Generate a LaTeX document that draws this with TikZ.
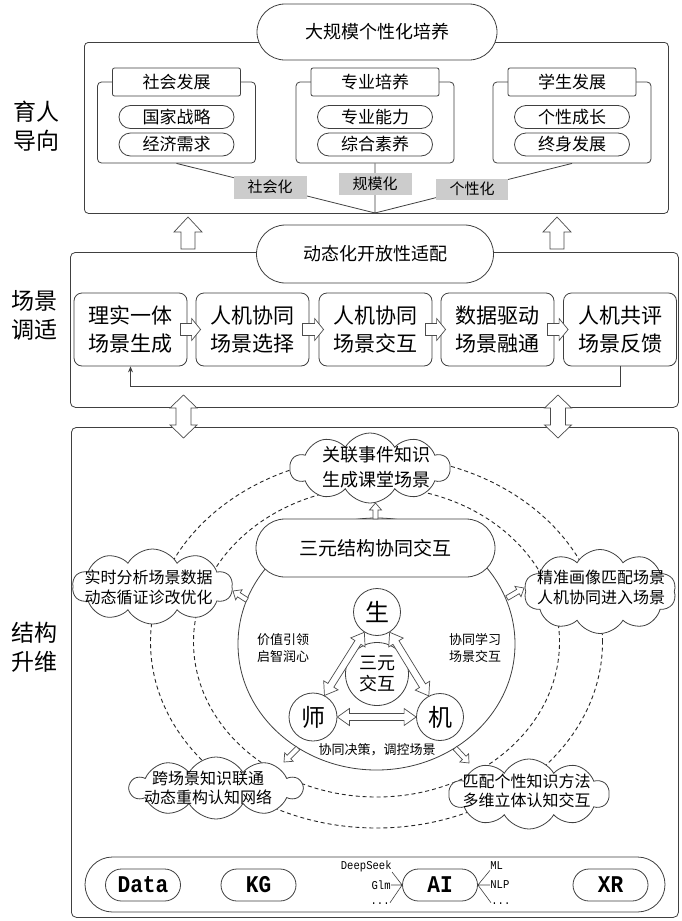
\documentclass[tikz,border=0pt]{standalone}
\usepackage{fontspec}
\setmainfont{Noto Sans CJK SC}
\newfontfamily\monof[FakeStretch=0.88]{Liberation Mono}
\usetikzlibrary{shapes.misc,shapes.symbols,shapes.geometric,calc,arrows.meta}

% block arrow: tail, tip, head length, head half width, shaft half width
\newcommand\blockarrow[5]{%
  \path ($(#2)!#3!(#1)$) coordinate (bah);
  \draw[barrow] ($(#1)!#5!90:(#2)$) -- ($(bah)!#5!90:(#2)$) -- ($(bah)!#4!90:(#2)$) -- (#2)
     -- ($(bah)!#4!-90:(#2)$) -- ($(bah)!#5!-90:(#2)$) -- ($(#1)!#5!-90:(#2)$) -- cycle;}
% double block arrow: tip A, tip B, head length, head half width, shaft half width
\newcommand\dblarrow[5]{%
  \path ($(#1)!#3!(#2)$) coordinate (daa) ($(#2)!#3!(#1)$) coordinate (dab);
  \draw[barrow] (#1) -- ($(daa)!#4!90:(#2)$) -- ($(daa)!#5!90:(#2)$) -- ($(dab)!#5!90:(#2)$)
     -- ($(dab)!#4!90:(#2)$) -- (#2) -- ($(dab)!#4!-90:(#2)$) -- ($(dab)!#5!-90:(#2)$)
     -- ($(daa)!#5!-90:(#2)$) -- ($(daa)!#4!-90:(#2)$) -- cycle;}

\begin{document}
\begin{tikzpicture}[x=1pt,y=-1pt,line width=0.8pt,
  ln/.style={draw=black!75},
  box/.style={draw=black!75,rounded corners=5pt,inner sep=0pt},
  pill/.style={rounded rectangle,draw=black!75,fill=white,inner sep=0pt},
  tabbox/.style={draw=black!75,fill=white,rounded corners=2pt,minimum width=128pt,minimum height=28pt,inner sep=0pt,font=\fontsize{17}{17}\selectfont},
  subpill/.style={pill,minimum width=115pt,minimum height=23pt,font=\fontsize{17}{17}\selectfont},
  glabel/.style={fill=black!20,inner sep=0pt,font=\fontsize{15}{15}\selectfont},
  stepbox/.style={draw=black!75,fill=white,rounded corners=8pt,minimum width=113pt,minimum height=73pt,inner sep=0pt,align=center,font=\fontsize{21}{28}\selectfont},
  side/.style={align=center,inner sep=0pt,font=\fontsize{23}{29}\selectfont},
  cloudbg/.style={cloud,cloud puffs=10,cloud puff arc=120,cloud ignores aspect,draw=black!75,fill=white,inner sep=0pt},
  cloudtxt/.style={align=center,inner sep=0pt},
  ring/.style={draw=black!85,dash pattern=on 4pt off 3pt,line width=0.9pt},
  barrow/.style={draw=black!70,fill=white,line width=0.7pt,line join=miter},
  rolec/.style={circle,draw=black!75,fill=white,inner sep=0pt,font=\fontsize{24}{24}\selectfont},
  small/.style={align=center,inner sep=0pt,font=\fontsize{13}{17}\selectfont},
  techpill/.style={pill,minimum width=75pt,minimum height=32pt,font=\monof\bfseries\fontsize{24}{24}\selectfont},
  tiny/.style={font=\monof\fontsize{12}{12}\selectfont,inner sep=0pt}]

\fill[white] (0,0) rectangle (681,921);
\useasboundingbox (0,0) rectangle (681,921);

% ---------- top section ----------
\node[box,rounded corners=4pt,minimum width=584pt,minimum height=171pt,anchor=north west] (topbox) at (84,42) {};
\node[pill,minimum width=240pt,minimum height=56pt,font=\fontsize{18}{18}\selectfont] (goal) at (377,32) {大规模个性化培养};
\node[side] (lab1) at (36,126) {育人\\导向};

\foreach \n/\x/\t/\a/\b in {g1/176.5/社会发展/国家战略/经济需求,g2/375/专业培养/专业能力/综合素养,g3/572/学生发展/个性成长/终身发展}{
  \node[box,rounded corners=4pt,minimum width=158pt,minimum height=81pt] (\n) at (\x,122.5) {};
  \node[tabbox] (\n-t) at (\x,82) {\t};
  \node[subpill] (\n-a) at (\x,117) {\a};
  \node[subpill] (\n-b) at (\x,144.5) {\b};
}
\coordinate (conv) at (375,213);
\draw[ln] (g1.south) -- (conv) (g2.south) -- (conv) (g3.south) -- (conv);
\node[glabel,minimum width=73pt,minimum height=23pt] (s1) at (270,187) {社会化};
\node[glabel,minimum width=73pt,minimum height=22pt] (s2) at (375,184) {规模化};
\node[glabel,minimum width=72pt,minimum height=21pt] (s3) at (472,189) {个性化};

% up arrows
\coordinate (u1a) at (188,249); \coordinate (u1b) at (188,217);
\coordinate (u2a) at (557,249); \coordinate (u2b) at (557,217);
\blockarrow{u1a}{u1b}{15pt}{14pt}{7pt}
\blockarrow{u2a}{u2b}{15pt}{14pt}{7pt}

% ---------- middle section ----------
\node[box,minimum width=608pt,minimum height=155pt,anchor=north west] (midbox) at (70,252) {};
\node[pill,minimum width=237pt,minimum height=58pt,font=\fontsize{18}{18}\selectfont] (adapt) at (375,254) {动态化开放性适配};
\node[side] (lab2) at (35,315) {场景\\调适};

\node[stepbox] (b1) at (130.5,329.5) {理实一体\\场景生成};
\node[stepbox] (b2) at (252.5,329.5) {人机协同\\场景选择};
\node[stepbox] (b3) at (375.5,329.5) {人机协同\\场景交互};
\node[stepbox] (b4) at (497.5,329.5) {数据驱动\\场景融通};
\node[stepbox] (b5) at (620,329.5) {人机共评\\场景反馈};
\foreach \i/\j in {1/2,2/3,3/4,4/5}{
  \coordinate (sa\i) at ($(b\i.east)+(-7,0)$);
  \coordinate (sb\i) at ($(b\j.west)+(5,0)$);
  \blockarrow{sa\i}{sb\i}{9pt}{11pt}{6pt}
}
\draw[ln,-{Stealth[length=6pt,width=5pt]}] (b5.south) -- ++(0,20) -| (b1.south);

% ---------- bottom section ----------
\node[box,minimum width=607pt,minimum height=490pt,anchor=north west] (botbox) at (71,427) {};
\node[side] (lab3) at (35,647) {结构\\升维};

\coordinate (d1a) at (183.5,395); \coordinate (d1b) at (183.5,438);
\coordinate (d2a) at (558,395); \coordinate (d2b) at (558,438);
\dblarrow{d1a}{d1b}{13pt}{13.5pt}{7.5pt}
\dblarrow{d2a}{d2b}{13pt}{13.5pt}{7.5pt}

\coordinate (ctr) at (376.5,642);
\draw[ring] (ctr) ellipse [x radius=226pt,y radius=186pt];
\draw[ring] (ctr) ellipse [x radius=183pt,y radius=155pt];

\node[ellipse,draw=black!75,fill=white,minimum width=277pt,minimum height=252pt,inner sep=0pt] (core) at (376.5,644) {};
\node[pill,minimum width=239pt,minimum height=58pt,font=\fontsize{19}{19}\selectfont] (tri) at (375.5,548) {三元结构协同交互};

\node[cloudbg,minimum width=160pt,minimum height=70pt] (ctop) at (370,468) {};
\node[cloudtxt,font=\fontsize{18}{25}\selectfont] (ttop) at (376,467.5) {关联事件知识\\生成课堂场景};
\node[cloudbg,minimum width=160pt,minimum height=75pt] (cleft) at (152.5,586.5) {};
\node[cloudtxt,font=\fontsize{16}{20}\selectfont] (tleft) at (148.5,587) {实时分析场景数据\\动态循证诊改优化};
\node[cloudbg,minimum width=152pt,minimum height=84pt] (cright) at (600,591.5) {};
\node[cloudtxt,font=\fontsize{16}{20}\selectfont] (tright) at (601,587) {精准画像匹配场景\\人机协同进入场景};
\node[cloudbg,minimum width=172pt,minimum height=62pt] (cbl) at (216,788) {};
\node[cloudtxt,font=\fontsize{16}{19}\selectfont] (tbl) at (208,787.5) {跨场景知识联通\\动态重构认知网络};
\node[cloudbg,minimum width=160pt,minimum height=70pt] (cbr) at (529,794) {};
\node[cloudtxt,font=\fontsize{16}{19}\selectfont] (tbr) at (526.5,791) {匹配个性知识方法\\多维立体认知交互};

% small arrows from core to clouds
\coordinate (k1a) at (375.5,519); \coordinate (k1b) at (375.5,503);
\coordinate (k2a) at (247,600);   \coordinate (k2b) at (233,591);
\coordinate (k3a) at (507,598);   \coordinate (k3b) at (524,588);
\coordinate (k4a) at (298,748);   \coordinate (k4b) at (284,762);
\coordinate (k5a) at (455,748);   \coordinate (k5b) at (469,763);
\foreach \k in {1,...,5}{\blockarrow{k\k a}{k\k b}{7pt}{6pt}{2.5pt}}

% roles
\node[rolec,minimum size=47pt] (sheng) at (377,612) {生};
\node[rolec,minimum size=63pt,align=center,font=\fontsize{18}{21}\selectfont] (core3) at (377,674) {三元\\交互};
\node[rolec,minimum size=48pt] (shi) at (313,717) {师};
\node[rolec,minimum size=47pt] (ji) at (440,717) {机};
\dblarrow{sheng.238}{shi.62}{12pt}{8.5pt}{3.5pt}
\dblarrow{sheng.302}{ji.118}{12pt}{8.5pt}{3.5pt}
\dblarrow{shi.east}{ji.west}{12pt}{8.5pt}{3.5pt}
\node[small] (v1) at (283,648) {价值引领\\启智润心};
\node[small] (v2) at (475,648) {协同学习\\场景交互};
\node[small] (v3) at (377,750) {协同决策，调控场景};

% technology base
\node[pill,minimum width=580pt,minimum height=55pt] (base) at (375,884.5) {};
\node[techpill] (data) at (143,885) {Data};
\node[techpill] (kg) at (258.5,885) {KG};
\node[techpill] (ai) at (440,885) {AI};
\node[techpill] (xr) at (610.5,885) {XR};
\node[tiny,anchor=east] (ds) at (392,866) {DeepSeek};
\node[tiny,anchor=east] (glm) at (391,885) {Glm};
\node[tiny,anchor=east] (dl) at (390,904) {...};
\node[tiny,anchor=west] (ml) at (490,866) {ML};
\node[tiny,anchor=west] (nlp) at (490,885) {NLP};
\node[tiny,anchor=west] (dr) at (491,904) {...};
\draw[ln,line width=0.6pt] (ai.west) -- (ds.south east) (ai.west) -- (glm.east) (ai.west) -- (dl.north east);
\draw[ln,line width=0.6pt] (ai.east) -- (ml.south west) (ai.east) -- (nlp.west) (ai.east) -- (dr.north west);
\end{tikzpicture}
\end{document}
